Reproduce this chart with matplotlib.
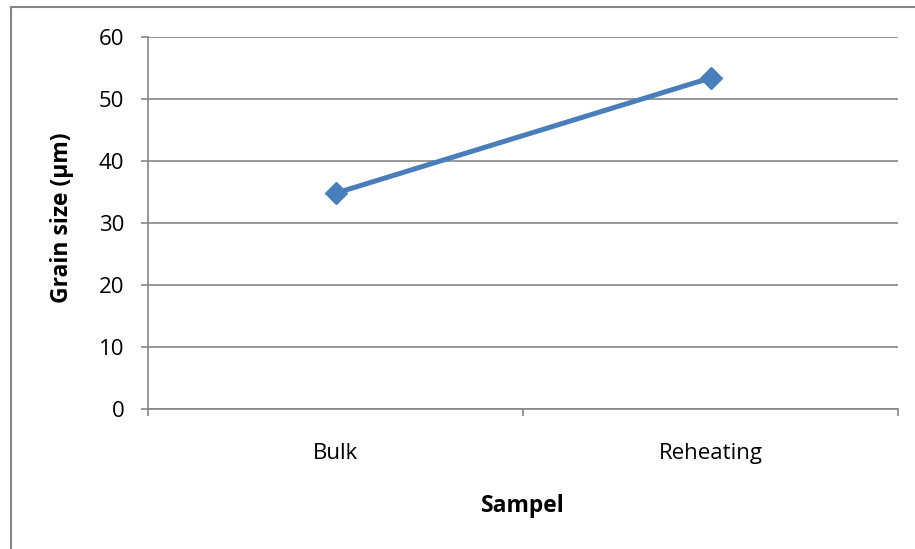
import matplotlib
matplotlib.use("Agg")
import matplotlib.pyplot as plt
from matplotlib.patches import Rectangle

categories = ["Bulk", "Reheating"]
grain_size = [34.8, 53.4]
yticks = [0, 10, 20, 30, 40, 50, 60]

plt.rcParams['font.family'] = ['Open Sans', 'DejaVu Sans']

W, H = 915, 549
fig = plt.figure(figsize=(W / 100, H / 100), dpi=100)
ax = fig.add_axes([148 / W, 1 - 409 / H, (898 - 148) / W, (409 - 37) / H])

grey = "#868686"
x = list(range(len(categories)))
ax.plot(x, grain_size, color="#4A7EBB", lw=3.6, marker="D", markersize=11,
        solid_capstyle="round", zorder=3)

ax.set_ylim(0, 60)
ax.set_xlim(-0.5, len(categories) - 0.5)
ax.set_yticks(yticks)
ax.set_yticklabels([str(v) for v in yticks])
ax.yaxis.grid(True, color=grey, lw=1.2)
ax.set_axisbelow(True)

ax.set_xticks([-0.5 + i for i in range(len(categories) + 1)])
ax.set_xticklabels([])
ax.set_xticks(x, minor=True)
ax.set_xticklabels(categories, minor=True)
ax.tick_params(axis="x", which="major", length=5, width=1.2, color=grey, direction="out")
ax.tick_params(axis="x", which="minor", length=0, pad=24.5, labelsize=16)
ax.tick_params(axis="y", length=5, width=1.2, color=grey, pad=12, labelsize=16)

for s in ["top", "right"]:
    ax.spines[s].set_visible(False)
for s in ["left", "bottom"]:
    ax.spines[s].set_color(grey)
    ax.spines[s].set_linewidth(1.2)

fig.text(62 / W, 1 - 218 / H, "Grain size (µm)", rotation=90, ha="center", va="center",
         fontsize=16.5, fontweight="bold")
fig.text(523 / W, 1 - 506 / H, "Sampel", ha="center", va="center",
         fontsize=16.5, fontweight="bold")

fig.patches.append(Rectangle((11 / W, -0.2), 1.2, 1.2 - 7 / H, transform=fig.transFigure,
                             fill=False, edgecolor=grey, lw=1.5, zorder=0))

fig.savefig("out.png", dpi=100)
